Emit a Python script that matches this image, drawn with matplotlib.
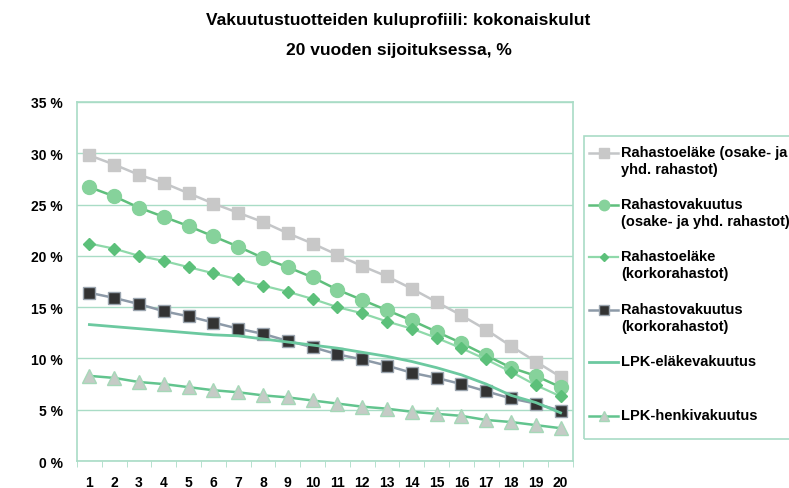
import numpy as np
import matplotlib
matplotlib.use("Agg")
from matplotlib import pyplot as plt
from matplotlib.lines import Line2D
from matplotlib.patches import Rectangle

plt.rcParams['font.family'] = ['Liberation Sans', 'DejaVu Sans']

years = list(range(1, 21))

rahastoelake_osake = [29.8, 28.9, 27.9, 27.1, 26.1, 25.1, 24.2, 23.3, 22.2, 21.2,
                      20.1, 19.0, 18.0, 16.8, 15.5, 14.2, 12.8, 11.2, 9.7, 8.2]
rahastovakuutus_osake = [26.7, 25.8, 24.7, 23.8, 22.9, 21.9, 20.9, 19.8, 18.9, 17.9,
                         16.7, 15.7, 14.7, 13.7, 12.6, 11.5, 10.3, 9.1, 8.3, 7.2]
rahastoelake_korko = [21.2, 20.7, 20.0, 19.5, 18.9, 18.3, 17.7, 17.1, 16.5, 15.8,
                      15.0, 14.4, 13.6, 12.9, 12.0, 11.0, 9.9, 8.7, 7.4, 6.3]
rahastovakuutus_korko = [16.4, 15.9, 15.3, 14.6, 14.1, 13.5, 12.9, 12.4, 11.7, 11.1,
                         10.4, 9.9, 9.3, 8.6, 8.1, 7.5, 6.8, 6.1, 5.6, 4.9]
lpk_elake = [13.3, 13.1, 12.9, 12.7, 12.5, 12.3, 12.2, 11.9, 11.6, 11.3,
             11.0, 10.6, 10.2, 9.7, 9.1, 8.4, 7.5, 6.4, 5.7, 4.7]
lpk_henki = [8.3, 8.1, 7.7, 7.5, 7.2, 6.9, 6.7, 6.4, 6.2, 5.9,
             5.6, 5.3, 5.1, 4.8, 4.6, 4.4, 4.0, 3.8, 3.5, 3.2]

y_ticks = [0, 5, 10, 15, 20, 25, 30, 35]
y_labels = ['%d %%' % v for v in y_ticks]

grid_col = '#a9dcc6'

series = [
    (rahastoelake_osake, 'Rahastoeläke (osake- ja\nyhd. rahastot)',
     dict(color='#c4c6c8', marker='s', ms=9, mfc='#c8c8c8', mec='#c8c8c8', lw=1.8)),
    (rahastovakuutus_osake, 'Rahastovakuutus\n(osake- ja yhd. rahastot)',
     dict(color='#5fbf7c', marker='o', ms=10, mfc='#86d29b', mec='#86d29b', lw=1.8)),
    (rahastoelake_korko, 'Rahastoeläke\n(korkorahastot)',
     dict(color='#8fd9aa', marker='D', ms=6, mfc='#5cc07a', mec='#5cc07a', lw=1.6)),
    (rahastovakuutus_korko, 'Rahastovakuutus\n(korkorahastot)',
     dict(color='#8d9aa8', marker='s', ms=9, mfc='#333333', mec='#9aa4ae', lw=1.8)),
    (lpk_elake, 'LPK-eläkevakuutus',
     dict(color='#6cc9a0', marker=None, lw=2.0)),
    (lpk_henki, 'LPK-henkivakuutus',
     dict(color='#62c48e', marker='^', ms=10, mfc='#c5cbc6', mec='#a6d8b8', lw=1.8)),
]

fig = plt.figure(figsize=(7.89, 4.89), dpi=100)
ax = fig.add_axes([0.0976, 0.0552, 0.6286, 0.7342])

for vals, label, style in series:
    ax.plot(years, vals, **style)

ax.set_xlim(0.5, 20.5)
ax.set_ylim(0, 35)
ax.set_yticks(y_ticks)
ax.set_yticklabels(y_labels, fontsize=10, fontweight='bold')
ax.set_xticks(years)
ax.set_xticklabels([str(y) for y in years], fontsize=10, fontweight='bold')
ax.set_xticks(np.arange(0.5, 21, 1), minor=True)
ax.tick_params(axis='x', which='major', length=0, pad=10)
ax.tick_params(axis='x', which='minor', length=4, color=grid_col)
ax.tick_params(axis='y', length=0, pad=10)
ax.yaxis.grid(True, color=grid_col, lw=1)
ax.set_axisbelow(True)
for sp in ax.spines.values():
    sp.set_color(grid_col)
    sp.set_linewidth(1.2)

fig.text(0.505, 0.958, 'Vakuutustuotteiden kuluprofiili: kokonaiskulut',
         ha='center', va='center', fontsize=12.5, fontweight='bold')
fig.text(0.505, 0.897, '20 vuoden sijoituksessa, %',
         ha='center', va='center', fontsize=12.5, fontweight='bold')

# legend box, drawn by hand so the handle sits on the first text line
W, H = 789.0, 489.0
fig.patches.append(Rectangle((584 / W, 1 - 440 / H), 300 / W, 303 / H,
                             transform=fig.transFigure, fill=False,
                             edgecolor=grid_col, lw=1.2))
entry_y = [154, 206, 258, 311, 363, 417]
for (vals, label, style), yy in zip(series, entry_y):
    yf = 1 - yy / H
    fig.add_artist(Line2D([589 / W, 618 / W], [yf, yf], transform=fig.transFigure,
                          color=style['color'], lw=style['lw']))
    if style.get('marker'):
        fig.add_artist(Line2D([603.5 / W], [yf], transform=fig.transFigure,
                              marker=style['marker'], ms=style['ms'] * 0.75,
                              mfc=style['mfc'], mec=style['mec'], lw=0))
    fig.text(621 / W, yf + 8 / H, label, ha='left', va='top',
             fontsize=10.5, fontweight='bold', linespacing=1.3)

fig.savefig('out.png', dpi=100)
